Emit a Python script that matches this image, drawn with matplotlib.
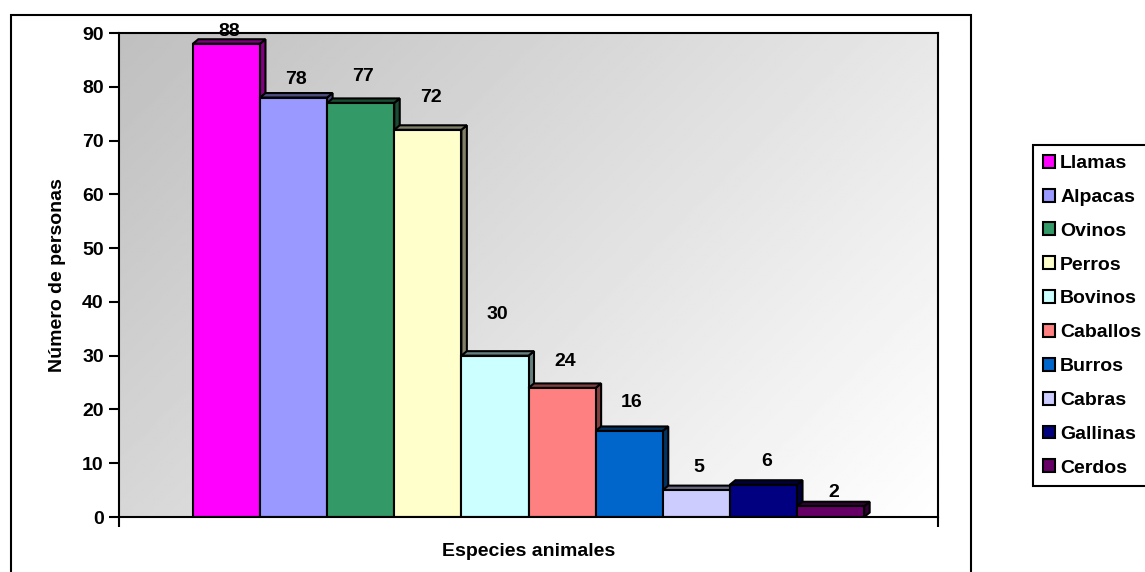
import matplotlib
matplotlib.use("Agg")
import matplotlib.pyplot as plt
import numpy as np
from matplotlib.patches import Rectangle, Polygon, Patch
from matplotlib.colors import to_rgb

especies = ["Llamas", "Alpacas", "Ovinos", "Perros", "Bovinos",
            "Caballos", "Burros", "Cabras", "Gallinas", "Cerdos"]
personas = [88, 78, 77, 72, 30, 24, 16, 5, 6, 2]
colores = ["#FF00FF", "#9999FF", "#339966", "#FFFFCC", "#CCFFFF",
           "#FF8080", "#0066CC", "#CCCCFF", "#000080", "#660066"]
yticks = [0, 10, 20, 30, 40, 50, 60, 70, 80, 90]

# space (px) between bar top and its value label, excel put them unevenly
label_gap = [12, 18, 26, 32, 41, 26, 28, 23, 23, 14]

plt.rcParams['font.family'] = ['Liberation Sans', 'DejaVu Sans']
plt.rcParams['font.weight'] = 'bold'

W, H = 1145, 572
fig = plt.figure(figsize=(W / 100, H / 100), dpi=100)
fig.patch.set_facecolor('white')

# plot area in pixels
L, T, R, B = 119, 33, 938, 517
ax = fig.add_axes([L / W, 1 - B / H, (R - L) / W, (B - T) / H])

n = len(especies)
x = np.arange(n)
margin = 1.1
x0, x1 = -0.5 - margin, n - 0.5 + margin
ax.set_xlim(x0, x1)
ax.set_ylim(0, 90)

# gradient background: grey top-left -> white bottom-right
u = np.linspace(0, 1, 400)
r = np.linspace(0, 1, 250)
uu, rr = np.meshgrid(u, r)
t = (uu * (R - L) + rr * (B - T)) / ((R - L) + (B - T))
ax.imshow(0.75 + 0.25 * t, cmap='gray', vmin=0, vmax=1, origin='upper',
          extent=[x0, x1, 0, 90], aspect='auto', zorder=0, interpolation='bilinear')

# 3d depth in data units
dx = 5.5 * (x1 - x0) / (R - L)
dy = 4.5 * 90 / (B - T)

bars = ax.bar(x, personas, width=1, color=colores, edgecolor='k', linewidth=1.5)
for i, (b, v, c) in enumerate(zip(bars, personas, colores)):
    b.set_zorder(3 + i)
    dark = tuple(np.array(to_rgb(c)) * 0.5)
    xl, xr = i - 0.5, i + 0.5
    top = Polygon([(xl, v), (xr, v), (xr + dx, v + dy), (xl + dx, v + dy)],
                  closed=True, fc=dark, ec='k', lw=1.5, zorder=2.5 + i)
    side = Polygon([(xr, 0), (xr + dx, dy), (xr + dx, v + dy), (xr, v)],
                   closed=True, fc=dark, ec='k', lw=1.5, zorder=2.5 + i)
    ax.add_patch(side)
    ax.add_patch(top)
    ax.annotate(str(v), (i + dx / 2, v), xytext=(0, label_gap[i]),
                textcoords='offset pixels', ha='center', va='center',
                fontsize=14, fontweight='bold', zorder=20)

ax.set_yticks(yticks)
ax.set_yticklabels([str(y) for y in yticks])
ax.set_xticks([x0, x1])
ax.set_xticklabels(['', ''])
ax.tick_params(axis='y', direction='out', length=7, width=1.5, pad=4, labelsize=14)
ax.tick_params(axis='x', direction='out', length=7, width=1.5)
for s in ax.spines.values():
    s.set_linewidth(1.5)
    s.set_color('k')
    s.set_zorder(30)

fig.text((L + R) / 2 / W, 1 - 552 / H, "Especies animales", ha='center', va='center',
         fontsize=14, fontweight='bold')
fig.text(58 / W, 1 - (T + B) / 2 / H, "Número de personas", ha='center', va='center',
         rotation=90, fontsize=14, fontweight='bold')

# outer chart frame
fig.add_artist(Rectangle((11 / W, -0.05), (971 - 11) / W, 1 - 14.7 / H + 0.05,
                         transform=fig.transFigure, fill=False, ec='k', lw=1.5))

handles = [Patch(facecolor=c, edgecolor='k', linewidth=1.5, label=e)
           for e, c in zip(especies, colores)]
leg = fig.legend(handles=handles, loc='upper left', bbox_to_anchor=(1033 / W, 1 - 145 / H),
                 frameon=True, fancybox=False, edgecolor='k', framealpha=1,
                 borderaxespad=0, borderpad=0.5, fontsize=14, handlelength=0.65,
                 handleheight=0.65, handletextpad=0.25, labelspacing=0.85)
leg.get_frame().set_linewidth(1.5)
for txt in leg.get_texts():
    txt.set_fontweight('bold')

fig.savefig('out.png', dpi=100)
